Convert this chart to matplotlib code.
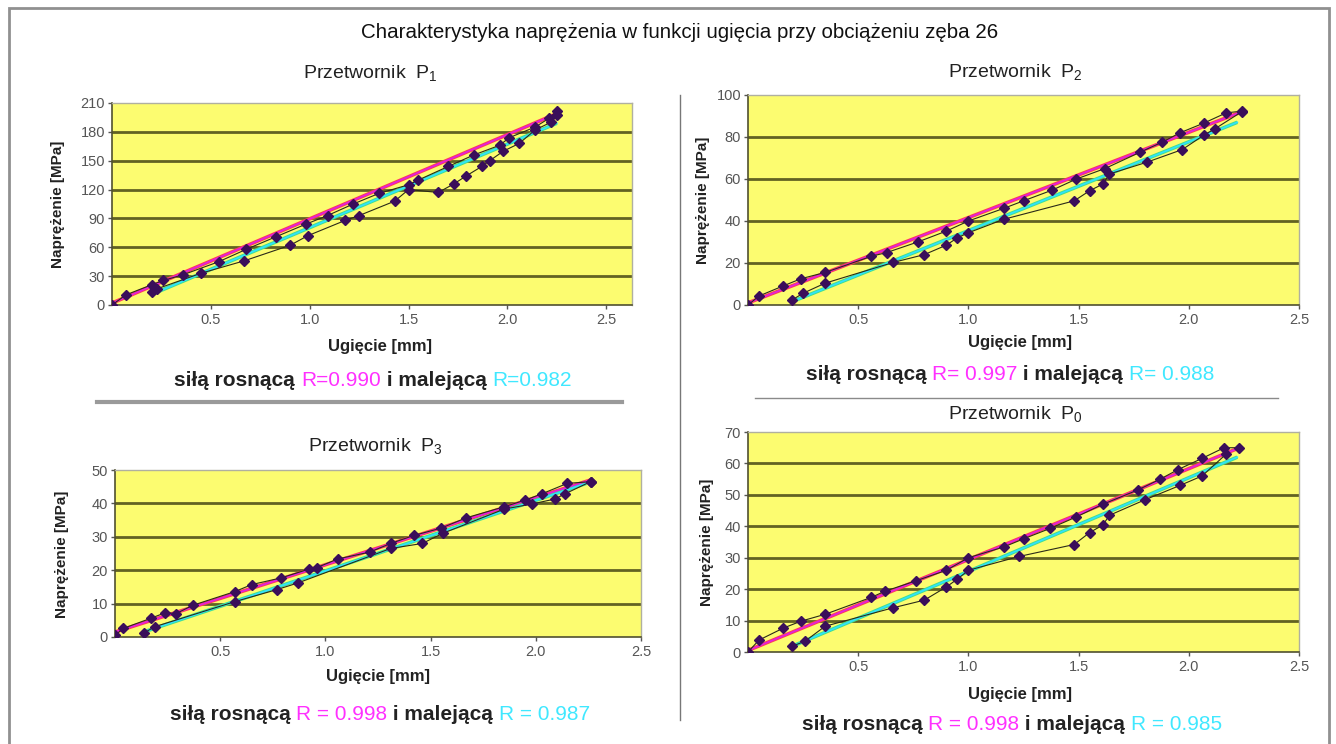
import matplotlib
matplotlib.use("Agg")
import matplotlib.pyplot as plt
from matplotlib.lines import Line2D
from matplotlib.patches import Rectangle

plt.rcParams['font.family'] = ['Liberation Sans', 'DejaVu Sans']

W, H = 1336, 744

# ---------------- data ----------------
# Przetwornik P1
p1_up_x = [0, 0.07, 0.20, 0.26, 0.36, 0.54, 0.68, 0.83, 0.98, 1.09, 1.22, 1.35, 1.50, 1.55, 1.70, 1.83, 1.96, 2.01, 2.14, 2.21, 2.25]
p1_up_y = [0, 10.5, 21, 25.5, 31.5, 45, 58, 71, 84, 93, 105, 116, 125, 130, 144, 156, 166, 174, 185, 194, 202]
p1_dn_x = [2.25, 2.22, 2.14, 2.06, 1.98, 1.91, 1.87, 1.79, 1.73, 1.65, 1.50, 1.43, 1.25, 1.18, 0.99, 0.90, 0.67, 0.45, 0.23, 0.20]
p1_dn_y = [198, 190, 182, 168, 160, 150, 144, 134, 126, 117, 120, 108, 93, 88, 72, 62, 46, 33, 17, 14]
p1_fit_up_x, p1_fit_up_y = [0, 2.25], [2, 199]
p1_fit_dn_x, p1_fit_dn_y = [0.20, 2.25], [11, 189]

# Przetwornik P2
p2_up_x = [0, 0.05, 0.16, 0.24, 0.35, 0.56, 0.63, 0.77, 0.90, 1.00, 1.16, 1.25, 1.38, 1.49, 1.62, 1.78, 1.88, 1.96, 2.07, 2.17, 2.24]
p2_up_y = [0, 4.3, 9.1, 12.5, 15.5, 23.2, 25, 30, 35.2, 40, 46, 49.6, 54.7, 60, 65, 72.8, 77.6, 82, 86.7, 91.5, 92.3]
p2_dn_x = [2.24, 2.12, 2.07, 1.97, 1.81, 1.64, 1.61, 1.55, 1.48, 1.16, 1.00, 0.95, 0.90, 0.80, 0.66, 0.35, 0.25, 0.20]
p2_dn_y = [92, 84, 81, 74, 68, 62.4, 57.6, 54.4, 49.6, 40.8, 34.4, 32, 28.5, 24, 20.3, 10.4, 5.6, 2.4]
p2_fit_up_x, p2_fit_up_y = [0, 2.24], [1, 92]
p2_fit_dn_x, p2_fit_dn_y = [0.20, 2.22], [1.6, 87]

# Przetwornik P3
p3_up_x = [0, 0.04, 0.17, 0.24, 0.29, 0.37, 0.57, 0.65, 0.79, 0.92, 0.96, 1.06, 1.21, 1.31, 1.42, 1.55, 1.67, 1.85, 1.95, 2.03, 2.15, 2.26]
p3_up_y = [0.5, 2.6, 5.6, 7.3, 7.0, 9.5, 13.6, 15.7, 17.7, 20.3, 20.8, 23.4, 25.4, 28, 30.4, 32.6, 35.7, 39, 41, 42.9, 46, 46.5]
p3_dn_x = [2.26, 2.14, 2.09, 1.98, 1.85, 1.56, 1.46, 1.31, 0.87, 0.77, 0.57, 0.19, 0.14]
p3_dn_y = [46.5, 42.9, 41.3, 39.8, 38.3, 31.1, 28, 26.5, 16.2, 14.2, 10.6, 3.1, 1.3]
p3_fit_up_x, p3_fit_up_y = [0, 2.26], [1.5, 47]
p3_fit_dn_x, p3_fit_dn_y = [0.15, 2.24], [1.8, 46]

# Przetwornik P0
p0_up_x = [0, 0.05, 0.16, 0.24, 0.35, 0.56, 0.62, 0.76, 0.90, 1.00, 1.16, 1.25, 1.37, 1.49, 1.61, 1.77, 1.87, 1.95, 2.06, 2.16, 2.23]
p0_up_y = [0, 3.8, 7.6, 9.8, 12, 17.4, 19.3, 22.6, 26, 30, 33.4, 36, 39.3, 43, 47, 51.6, 55, 58, 61.6, 65, 65]
p0_dn_x = [2.17, 2.06, 1.96, 1.80, 1.64, 1.61, 1.55, 1.48, 1.23, 1.00, 0.95, 0.90, 0.80, 0.66, 0.35, 0.26, 0.20]
p0_dn_y = [63, 56, 53, 48.4, 43.5, 40.4, 38, 34.2, 30.4, 26, 23.2, 20.7, 16.5, 14.1, 8.2, 3.5, 1.8]
p0_fit_up_x, p0_fit_up_y = [0, 2.23], [0.5, 65]
p0_fit_dn_x, p0_fit_dn_y = [0.20, 2.22], [1.8, 62]

panel_titles = ["Przetwornik  $\\mathregular{P_1}$", "Przetwornik  $\\mathregular{P_2}$",
                "Przetwornik  $\\mathregular{P_3}$", "Przetwornik  $\\mathregular{P_0}$"]
r_up = ["R=0.990", "R= 0.997", "R = 0.998", "R = 0.998"]
r_dn = ["R=0.982", "R= 0.988", "R = 0.987", "R = 0.985"]
yticks = [[0, 30, 60, 90, 120, 150, 180, 210], [0, 20, 40, 60, 80, 100],
          [0, 10, 20, 30, 40, 50], [0, 10, 20, 30, 40, 50, 60, 70]]
xticks = [0.5, 1.0, 1.5, 2.0, 2.5]
main_title = "Charakterystyka naprężenia w funkcji ugięcia przy obciążeniu zęba 26"
xlabel = "Ugięcie [mm]"
ylabel = "Naprężenie [MPa]"

# ---------------- layout ----------------
fig = plt.figure(figsize=(W / 100, H / 100), dpi=100)
fig.patch.set_facecolor('white')


def fx(x):
    return x / W


def fy(y):
    return 1 - y / H


# (left, right, top, bottom) in pixels, xmax
boxes = [(112, 632, 103, 305, 2.63), (748, 1299, 95, 305, 2.5),
         (115, 641, 470, 637, 2.5), (748, 1299, 432, 652, 2.5)]
datasets = [
    (p1_up_x, p1_up_y, p1_dn_x, p1_dn_y, p1_fit_up_x, p1_fit_up_y, p1_fit_dn_x, p1_fit_dn_y),
    (p2_up_x, p2_up_y, p2_dn_x, p2_dn_y, p2_fit_up_x, p2_fit_up_y, p2_fit_dn_x, p2_fit_dn_y),
    (p3_up_x, p3_up_y, p3_dn_x, p3_dn_y, p3_fit_up_x, p3_fit_up_y, p3_fit_dn_x, p3_fit_dn_y),
    (p0_up_x, p0_up_y, p0_dn_x, p0_dn_y, p0_fit_up_x, p0_fit_up_y, p0_fit_dn_x, p0_fit_dn_y),
]
title_pos = [(370, 73), (1015, 72), (375, 446), (1015, 414)]
xlabel_pos = [(380, 346), (1020, 343), (378, 676), (1020, 695)]
ylabel_pos = [(58, 204), (703, 200), (62, 554), (707, 542)]
rline_pos = [(373, 381), (1010, 375), (380, 715), (1012, 724)]

MAG = '#ff30ff'
CYN = '#40e8ff'

for i, (l, r, t, b, xmax) in enumerate(boxes):
    ax = fig.add_axes([fx(l), fy(b), fx(r - l), (b - t) / H])
    ax.set_facecolor('#fcfc70')
    ax.set_xlim(0, xmax)
    ax.set_ylim(0, yticks[i][-1])
    ax.set_yticks(yticks[i])
    ax.set_xticks(xticks)
    ax.set_xticklabels([f"{v:.1f}" for v in xticks])
    ax.tick_params(axis='both', labelsize=10.5, colors='#555555', length=3, width=1,
                   direction='out', pad=2)
    ax.tick_params(axis='x', pad=3)
    for yv in yticks[i][1:-1]:
        ax.axhline(yv, color='#626222', lw=2.0, zorder=1)
    for side in ['top', 'right']:
        ax.spines[side].set_color('#b0b0a0')
        ax.spines[side].set_linewidth(1)
    for side in ['left', 'bottom']:
        ax.spines[side].set_color('#505030')
        ax.spines[side].set_linewidth(1.2)

    ux, uy, dx, dy, fux, fuy, fdx, fdy = datasets[i]
    # fitted lines
    ax.plot(fux, fuy, color='#ff3a5a', lw=2.6, zorder=2, solid_capstyle='butt')
    ax.plot(fux, fuy, color='#e020e0', lw=1.2, zorder=3)
    ax.plot(fdx, fdy, color='#40e090', lw=2.6, zorder=2, solid_capstyle='butt')
    ax.plot(fdx, fdy, color='#30e0ff', lw=1.2, zorder=3)
    # measured series
    ax.plot(ux, uy, color='#2a2a18', lw=0.8, zorder=4)
    ax.plot(dx, dy, color='#2a2a18', lw=0.8, zorder=4)
    ax.plot(ux, uy, ls='none', marker='D', ms=5, color='#3a0e5a', zorder=5)
    ax.plot(dx, dy, ls='none', marker='D', ms=5, color='#3a0e5a', zorder=5)
    ax.margins(0)

    # texts
    fig.text(fx(title_pos[i][0]), fy(title_pos[i][1]), panel_titles[i], ha='center', va='center',
             fontsize=14, color='#222222')
    fig.text(fx(xlabel_pos[i][0]), fy(xlabel_pos[i][1]), xlabel, ha='center', va='center',
             fontsize=12, fontweight='bold', color='#222222')
    fig.text(fx(ylabel_pos[i][0]), fy(ylabel_pos[i][1]), ylabel, ha='center', va='center',
             fontsize=11, fontweight='bold', color='#222222', rotation=90)

# R lines built from pieces
renderer = fig.canvas.get_renderer()
for i, (cx, cy) in enumerate(rline_pos):
    pieces = [("siłą rosnącą ", '#222222', 'bold'), (r_up[i], MAG, 'normal'),
              (" i malejącą ", '#222222', 'bold'), (r_dn[i], CYN, 'normal')]
    texts = []
    widths = []
    for s, c, wgt in pieces:
        t = fig.text(0, fy(cy), s, ha='left', va='center', fontsize=15, color=c, fontweight=wgt)
        texts.append(t)
        widths.append(t.get_window_extent(renderer=renderer).width)
    total = sum(widths)
    x0 = cx - total / 2
    for t, w in zip(texts, widths):
        t.set_x(fx(x0))
        x0 += w

fig.text(fx(680), fy(33), main_title, ha='center', va='center', fontsize=14.8, color='#111111')

# separators and frame
fig.add_artist(Line2D([fx(97), fx(622)], [fy(402), fy(402)], color='#9a9a9a', lw=3))
fig.add_artist(Line2D([fx(755), fx(1278)], [fy(398), fy(398)], color='#8a8a8a', lw=1))
fig.add_artist(Line2D([fx(680), fx(680)], [fy(95), fy(720)], color='#777777', lw=1))
fig.add_artist(Rectangle((fx(9), fy(760)), fx(1320), (760 - 8) / H, fill=False,
                         edgecolor='#909090', lw=2, transform=fig.transFigure))

fig.savefig('out.png', dpi=100, facecolor='white')
